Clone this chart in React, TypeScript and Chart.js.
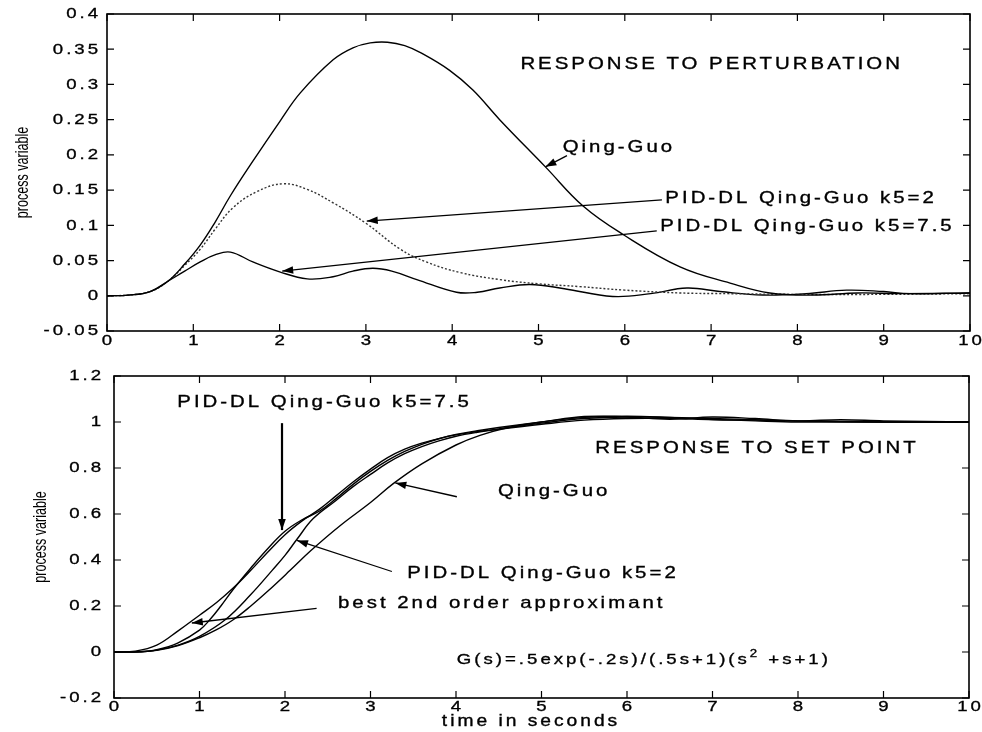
import React, { useEffect, useRef } from 'react';
import { Chart, registerables } from 'chart.js';

Chart.register(...registerables);

// ---------- DATA: response to perturbation (top) ----------
const pertQingGuoT = [0, 0.25, 0.5, 0.71, 0.9, 1.08, 1.25, 1.43, 1.69, 2.0, 2.24, 2.62, 2.85, 3.05, 3.25, 3.45, 3.65, 3.97, 4.24, 4.55, 5.08, 5.52, 5.98, 6.64, 7.22, 7.68, 8.18, 8.7, 9.2, 10];
const pertQingGuoV = [0, 0.001, 0.006, 0.021, 0.045, 0.072, 0.104, 0.142, 0.191, 0.247, 0.288, 0.335, 0.352, 0.359, 0.36, 0.355, 0.344, 0.32, 0.292, 0.25, 0.183, 0.127, 0.087, 0.041, 0.018, 0.004, 0.001, 0.004, 0.003, 0.004];

const pertK2T = [0, 0.25, 0.5, 0.71, 0.9, 1.08, 1.25, 1.46, 1.74, 2.04, 2.32, 2.62, 3.0, 3.4, 3.7, 4.09, 4.55, 5.0, 5.48, 6.0, 6.64, 7.2, 8.0, 9.0, 10];
const pertK2V = [0, 0.001, 0.006, 0.021, 0.043, 0.066, 0.094, 0.125, 0.148, 0.159, 0.151, 0.132, 0.103, 0.066, 0.048, 0.033, 0.023, 0.017, 0.013, 0.008, 0.004, 0.003, 0.002, 0.002, 0.003];

const pertK75T = [0, 0.25, 0.5, 0.71, 0.9, 1.08, 1.25, 1.43, 1.69, 2.0, 2.32, 2.62, 2.85, 3.08, 3.3, 3.59, 4.05, 4.29, 4.55, 4.9, 5.3, 5.86, 6.3, 6.72, 7.1, 7.6, 8.1, 8.57, 9.0, 9.3, 10];
const pertK75V = [0, 0.001, 0.006, 0.021, 0.035, 0.048, 0.058, 0.062, 0.048, 0.034, 0.024, 0.027, 0.035, 0.039, 0.035, 0.023, 0.005, 0.005, 0.011, 0.016, 0.01, -0.001, 0.003, 0.011, 0.006, 0.001, 0.003, 0.008, 0.006, 0.003, 0.004];

// ---------- DATA: response to set point (bottom) ----------
const spBestT = [0, 0.25, 0.5, 0.75, 1.0, 1.2, 1.4, 1.6, 1.8, 2.0, 2.2, 2.4, 2.6, 2.8, 3.0, 3.2, 3.4, 3.6, 3.8, 4.0, 4.25, 4.5, 5.0, 5.5, 6.0, 6.5, 7.0, 7.5, 8.0, 9.0, 10];
const spBestV = [0, 0.004, 0.03, 0.092, 0.16, 0.215, 0.28, 0.355, 0.435, 0.51, 0.57, 0.62, 0.68, 0.74, 0.795, 0.845, 0.882, 0.908, 0.928, 0.944, 0.958, 0.97, 0.995, 1.015, 1.022, 1.02, 1.015, 1.01, 1.005, 1.0, 1.0];

const spK75T = [0, 0.3, 0.5, 0.75, 1.0, 1.12, 1.25, 1.4, 1.6, 1.8, 2.0, 2.2, 2.4, 2.6, 2.8, 3.0, 3.2, 3.4, 3.6, 3.8, 4.0, 4.25, 4.5, 5.0, 5.5, 6.0, 6.5, 7.0, 7.5, 8.0, 8.5, 9.0, 10];
const spK75V = [0, 0.001, 0.01, 0.04, 0.095, 0.14, 0.2, 0.275, 0.365, 0.45, 0.525, 0.575, 0.612, 0.668, 0.73, 0.785, 0.833, 0.872, 0.903, 0.927, 0.946, 0.962, 0.976, 1.0, 1.024, 1.022, 1.012, 1.022, 1.015, 1.005, 1.01, 1.005, 1.0];

const spK2T = [0, 0.3, 0.5, 0.75, 1.0, 1.3, 1.6, 1.85, 2.0, 2.14, 2.33, 2.6, 2.8, 3.0, 3.2, 3.4, 3.6, 3.8, 4.0, 4.25, 4.5, 5.0, 5.5, 6.0, 6.5, 7.0, 7.5, 8.0, 9.0, 10];
const spK2V = [0, 0.001, 0.008, 0.03, 0.068, 0.14, 0.25, 0.355, 0.42, 0.49, 0.58, 0.66, 0.72, 0.772, 0.822, 0.862, 0.893, 0.918, 0.938, 0.955, 0.968, 0.99, 1.008, 1.015, 1.015, 1.01, 1.008, 1.004, 1.0, 1.0];

const spQingGuoT = [0, 0.3, 0.5, 0.75, 1.0, 1.2, 1.39, 1.6, 1.8, 2.06, 2.3, 2.64, 3.0, 3.27, 3.6, 4.0, 4.28, 4.6, 5.0, 5.5, 6.0, 6.5, 7.0, 7.5, 8.0, 9.0, 10];
const spQingGuoV = [0, 0.001, 0.007, 0.028, 0.062, 0.097, 0.139, 0.2, 0.265, 0.355, 0.44, 0.548, 0.65, 0.733, 0.818, 0.9, 0.942, 0.975, 1.0, 1.02, 1.025, 1.02, 1.012, 1.005, 1.0, 1.0, 1.0];

// ---------- TICKS ----------
const xTickValues = [0, 1, 2, 3, 4, 5, 6, 7, 8, 9, 10];
const xTickLabels = ['0', '1', '2', '3', '4', '5', '6', '7', '8', '9', '10'];
const topYTickValues = [-0.05, 0, 0.05, 0.1, 0.15, 0.2, 0.25, 0.3, 0.35, 0.4];
const topYTickLabels = ['-0.05', '0', '0.05', '0.1', '0.15', '0.2', '0.25', '0.3', '0.35', '0.4'];
const botYTickValues = [-0.2, 0, 0.2, 0.4, 0.6, 0.8, 1, 1.2];
const botYTickLabels = ['-0.2', '0', '0.2', '0.4', '0.6', '0.8', '1', '1.2'];

// ---------- TEXT ----------
const FONT = '"Liberation Sans", Arial, Helvetica, sans-serif';
const STRETCH = 1.2;
const SPACING = 2.5;
const ANN_SIZE = 17;
const TICK_SIZE = 15.5;

type Ann =
  | { kind: 'text'; t: number; v: number; text: string; size?: number }
  | { kind: 'rich'; t: number; v: number; parts: { text: string; size: number; dy: number }[] }
  | { kind: 'arrow'; t1: number; v1: number; t2: number; v2: number; width?: number };

const topAnnotations: Ann[] = [
  { kind: 'text', t: 4.79, v: 0.329, text: 'RESPONSE TO PERTURBATION' },
  { kind: 'text', t: 5.28, v: 0.211, text: 'Qing-Guo' },
  { kind: 'arrow', t1: 5.33, v1: 0.199, t2: 5.08, v2: 0.183 },
  { kind: 'text', t: 6.47, v: 0.139, text: 'PID-DL Qing-Guo k5=2' },
  { kind: 'arrow', t1: 6.43, v1: 0.136, t2: 3.01, v2: 0.106 },
  { kind: 'text', t: 6.41, v: 0.098, text: 'PID-DL Qing-Guo k5=7.5' },
  { kind: 'arrow', t1: 6.37, v1: 0.092, t2: 2.03, v2: 0.035 },
];

const botAnnotations: Ann[] = [
  { kind: 'text', t: 0.74, v: 1.087, text: 'PID-DL Qing-Guo k5=7.5' },
  { kind: 'arrow', t1: 1.965, v1: 0.995, t2: 1.965, v2: 0.53, width: 2.2 },
  { kind: 'text', t: 5.63, v: 0.885, text: 'RESPONSE TO SET POINT' },
  { kind: 'text', t: 4.49, v: 0.7, text: 'Qing-Guo' },
  { kind: 'arrow', t1: 4.01, v1: 0.675, t2: 3.29, v2: 0.735 },
  { kind: 'text', t: 3.43, v: 0.343, text: 'PID-DL Qing-Guo k5=2' },
  { kind: 'arrow', t1: 3.25, v1: 0.35, t2: 2.14, v2: 0.485 },
  { kind: 'text', t: 2.62, v: 0.21, text: 'best 2nd order approximant' },
  { kind: 'arrow', t1: 2.37, v1: 0.19, t2: 0.91, v2: 0.126 },
  {
    kind: 'rich', t: 4.01, v: -0.035, parts: [
      { text: 'G(s)=.5exp(-.2s)/(.5s+1)(s', size: 15.5, dy: 0 },
      { text: '2', size: 11, dy: -6 },
      { text: ' +s+1)', size: 15.5, dy: 0 },
    ],
  },
];

function textWidth(ctx: CanvasRenderingContext2D, text: string, size: number) {
  ctx.font = `${size}px ${FONT}`;
  (ctx as any).letterSpacing = '0px';
  const base = ctx.measureText(text).width;
  return (base + SPACING * (text.length - 1)) * STRETCH;
}

function drawText(ctx: CanvasRenderingContext2D, text: string, x: number, y: number, size: number, align: 'left' | 'center' | 'right') {
  const w = textWidth(ctx, text, size);
  const x0 = align === 'left' ? x : align === 'right' ? x - w : x - w / 2;
  ctx.save();
  ctx.font = `${size}px ${FONT}`;
  (ctx as any).letterSpacing = SPACING + 'px';
  ctx.textBaseline = 'middle';
  ctx.textAlign = 'left';
  ctx.fillStyle = '#000';
  ctx.strokeStyle = '#000';
  ctx.lineWidth = 0.35;
  ctx.translate(x0, y);
  ctx.scale(STRETCH, 1);
  ctx.fillText(text, 0, 0);
  ctx.strokeText(text, 0, 0);
  ctx.restore();
  return w + SPACING * STRETCH;
}

const framePlugin = {
  id: 'frame',
  afterDraw(chart: any, _args: any, opts: any) {
    const ctx: CanvasRenderingContext2D = chart.ctx;
    const { left, right, top, bottom } = chart.chartArea;
    const xs = chart.scales.x;
    const ys = chart.scales.y;
    ctx.save();
    ctx.strokeStyle = '#000';
    ctx.fillStyle = '#000';
    ctx.lineWidth = 1.6;
    ctx.strokeRect(left, top, right - left, bottom - top);
    const tl = 7;
    ctx.lineWidth = 1.2;
    ctx.beginPath();
    for (const v of opts.xTicks) {
      const px = xs.getPixelForValue(v);
      ctx.moveTo(px, bottom); ctx.lineTo(px, bottom - tl);
      ctx.moveTo(px, top); ctx.lineTo(px, top + tl);
    }
    for (const v of opts.yTicks) {
      const py = ys.getPixelForValue(v);
      ctx.moveTo(left, py); ctx.lineTo(left + tl, py);
      ctx.moveTo(right, py); ctx.lineTo(right - tl, py);
    }
    ctx.stroke();
    ctx.restore();

    // tick labels
    opts.xTicks.forEach((v: number, i: number) => {
      drawText(ctx, opts.xLabels[i], xs.getPixelForValue(v), bottom + opts.xLabelGap, TICK_SIZE, 'center');
    });
    opts.yTicks.forEach((v: number, i: number) => {
      drawText(ctx, opts.yLabels[i], left - opts.yLabelGap, ys.getPixelForValue(v), TICK_SIZE, 'right');
    });

    // y title (condensed)
    ctx.save();
    ctx.fillStyle = '#000';
    ctx.translate(left - opts.yTitleOffset, (top + bottom) / 2);
    ctx.rotate(-Math.PI / 2);
    ctx.scale(0.66, 1);
    ctx.font = `19px ${FONT}`;
    (ctx as any).letterSpacing = '0px';
    ctx.textAlign = 'center';
    ctx.textBaseline = 'middle';
    ctx.fillText(opts.yTitle, 0, 0);
    ctx.restore();

    if (opts.xTitle) {
      drawText(ctx, opts.xTitle, (left + right) / 2 - 12, bottom + 24, 16, 'center');
    }

    // annotations
    for (const a of opts.annotations as Ann[]) {
      if (a.kind === 'text') {
        drawText(ctx, a.text, xs.getPixelForValue(a.t), ys.getPixelForValue(a.v), a.size || ANN_SIZE, 'left');
      } else if (a.kind === 'rich') {
        let x = xs.getPixelForValue(a.t);
        const y = ys.getPixelForValue(a.v);
        for (const p of a.parts) {
          x += drawText(ctx, p.text, x, y + p.dy, p.size, 'left');
        }
      } else {
        const x1 = xs.getPixelForValue(a.t1), y1 = ys.getPixelForValue(a.v1);
        const x2 = xs.getPixelForValue(a.t2), y2 = ys.getPixelForValue(a.v2);
        ctx.save();
        ctx.strokeStyle = '#000';
        ctx.fillStyle = '#000';
        ctx.lineWidth = a.width || 1.3;
        ctx.beginPath(); ctx.moveTo(x1, y1); ctx.lineTo(x2, y2); ctx.stroke();
        const ang = Math.atan2(y2 - y1, x2 - x1);
        const L = 11, W = 3.8;
        const c = Math.cos(ang), s = Math.sin(ang);
        ctx.beginPath();
        ctx.moveTo(x2, y2);
        ctx.lineTo(x2 - L * c + W * s, y2 - L * s - W * c);
        ctx.lineTo(x2 - L * c - W * s, y2 - L * s + W * c);
        ctx.closePath();
        ctx.fill();
        ctx.restore();
      }
    }
  },
};

function series(ts: number[], vs: number[]) {
  return ts.map((t, i) => ({ x: t, y: vs[i] }));
}

function lineDs(ts: number[], vs: number[], label: string, dash?: number[], color = '#000') {
  return {
    label,
    data: series(ts, vs),
    borderColor: color,
    borderWidth: 1.4,
    borderDash: dash || [],
    pointRadius: 0,
    fill: false,
    tension: 0.4,
  };
}

function makeConfig(opts: {
  datasets: any[]; yMin: number; yMax: number; yWidth: number; xHeight: number;
  padTop: number; padRight: number; frame: any;
}) {
  return {
    type: 'line' as const,
    data: { datasets: opts.datasets },
    plugins: [framePlugin],
    options: {
      animation: false as const,
      responsive: false,
      maintainAspectRatio: false,
      parsing: false as const,
      layout: { padding: { left: 0, right: opts.padRight, top: opts.padTop, bottom: 0 } },
      plugins: {
        legend: { display: false },
        tooltip: { enabled: false },
        frame: opts.frame,
      },
      scales: {
        x: {
          type: 'linear' as const,
          min: 0,
          max: 10,
          ticks: { display: false },
          grid: { display: false },
          border: { display: false },
          afterBuildTicks: (s: any) => { s.ticks = xTickValues.map((v) => ({ value: v })); },
          afterFit: (s: any) => { s.height = opts.xHeight; },
        },
        y: {
          type: 'linear' as const,
          min: opts.yMin,
          max: opts.yMax,
          ticks: { display: false },
          grid: { display: false },
          border: { display: false },
          afterFit: (s: any) => { s.width = opts.yWidth; },
        },
      },
    },
  };
}

export default function App() {
  const topRef = useRef<HTMLCanvasElement>(null);
  const botRef = useRef<HTMLCanvasElement>(null);

  useEffect(() => {
    const top = new Chart(topRef.current as HTMLCanvasElement, makeConfig({
      datasets: [
        lineDs(pertQingGuoT, pertQingGuoV, 'Qing-Guo'),
        lineDs(pertK2T, pertK2V, 'PID-DL Qing-Guo k5=2', [2, 2], '#333'),
        lineDs(pertK75T, pertK75V, 'PID-DL Qing-Guo k5=7.5'),
      ],
      yMin: -0.05, yMax: 0.4, yWidth: 107, xHeight: 24, padTop: 14, padRight: 12,
      frame: {
        xTicks: xTickValues, xLabels: xTickLabels,
        yTicks: topYTickValues, yLabels: topYTickLabels,
        xLabelGap: 10, yLabelGap: 9, yTitle: 'process variable', yTitleOffset: 84,
        annotations: topAnnotations,
      },
    }) as any);
    const bot = new Chart(botRef.current as HTMLCanvasElement, makeConfig({
      datasets: [
        lineDs(spBestT, spBestV, 'best 2nd order approximant'),
        lineDs(spK75T, spK75V, 'PID-DL Qing-Guo k5=7.5'),
        lineDs(spK2T, spK2V, 'PID-DL Qing-Guo k5=2'),
        lineDs(spQingGuoT, spQingGuoV, 'Qing-Guo'),
      ],
      yMin: -0.2, yMax: 1.2, yWidth: 114, xHeight: 34, padTop: 21, padRight: 13,
      frame: {
        xTicks: xTickValues, xLabels: xTickLabels,
        yTicks: botYTickValues, yLabels: botYTickLabels,
        xLabelGap: 9, yLabelGap: 13, yTitle: 'process variable', yTitleOffset: 73,
        xTitle: 'time in seconds',
        annotations: botAnnotations,
      },
    }) as any);
    return () => { top.destroy(); bot.destroy(); };
  }, []);

  return (
    <div style={{ position: 'absolute', left: 0, top: 0, width: 982, height: 732, background: '#fff' }}>
      <canvas ref={topRef} width={982} height={355} style={{ position: 'absolute', left: 0, top: 0, width: 982, height: 355 }} />
      <canvas ref={botRef} width={982} height={377} style={{ position: 'absolute', left: 0, top: 355, width: 982, height: 377 }} />
    </div>
  );
}
